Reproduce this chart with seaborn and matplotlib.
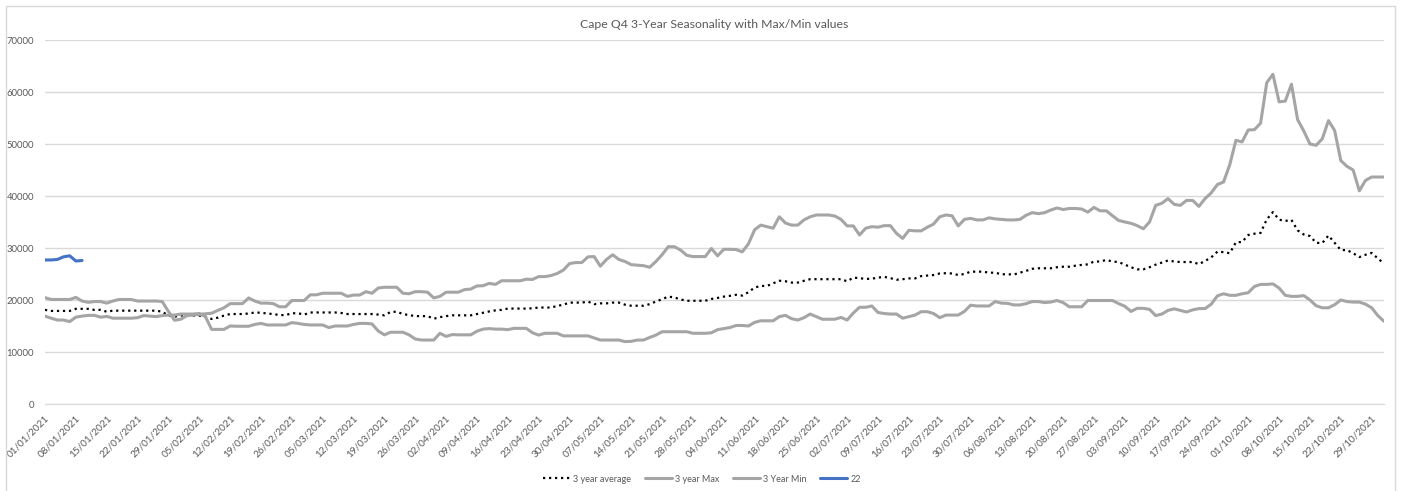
import numpy as np
import pandas as pd
import matplotlib
matplotlib.use("Agg")
import matplotlib.pyplot as plt
import seaborn as sns
from matplotlib.patches import Rectangle

# business days on a category axis, one label per week
dates = pd.bdate_range("2021-01-01", periods=218)
tick_labels = [d.strftime("%d/%m/%Y") for d in dates[::5]]

avg_3y = [
    18100, 17900, 17900, 17900, 17900, 18300, 18300, 18300, 18100, 18100,
    17750, 17950, 17950, 17950, 17950, 17950, 17950, 17950, 17950, 17750,
    17000, 16800, 17000, 17000, 17000, 17000, 16800, 16350, 16600, 17000,
    17300, 17300, 17300, 17400, 17600, 17550, 17400, 17300, 17100, 17100,
    17450, 17450, 17200, 17600, 17600, 17600, 17600, 17600, 17500, 17300,
    17300, 17300, 17300, 17300, 17200, 17050, 17700, 17750, 17300, 17100,
    16900, 16900, 16900, 16400, 16700, 16900, 17050, 17050, 17050, 17050,
    17300, 17550, 17800, 18000, 18100, 18350, 18350, 18350, 18350, 18400,
    18550, 18550, 18550, 18850, 19100, 19500, 19500, 19500, 19700, 19200,
    19350, 19350, 19500, 19500, 19100, 18900, 18900, 18900, 19200, 19700,
    20150, 20650, 20500, 20100, 19850, 19850, 19850, 19850, 20200, 20400,
    20650, 20800, 21000, 20850, 21500, 22400, 22700, 22700, 23200, 23700,
    23600, 23350, 23350, 23700, 24000, 24000, 24000, 24000, 24000, 24000,
    23600, 24300, 24200, 24050, 24100, 24300, 24450, 24200, 23900, 24000,
    24150, 24150, 24600, 24700, 24800, 25100, 25150, 25100, 24800, 25000,
    25450, 25450, 25450, 25250, 25250, 24950, 24950, 24900, 25250, 25600,
    26000, 26100, 26100, 26100, 26300, 26400, 26400, 26600, 26750, 26850,
    27400, 27400, 27700, 27400, 27300, 26800, 26300, 25900, 25900, 26300,
    26800, 27200, 27600, 27400, 27300, 27300, 27300, 26900, 27500, 28200,
    29300, 29200, 29000, 31100, 31150, 32500, 32750, 32900, 35500, 36900,
    35450, 35200, 35400, 33400, 32600, 32300, 31000, 30950, 32400, 31000,
    29600, 29600, 29000, 28250, 28700, 29050, 28000, 27000,
]

max_3y = [
    20450, 20100, 20100, 20100, 20100, 20500, 19800, 19550, 19700, 19700,
    19400, 19800, 20100, 20100, 20100, 19800, 19800, 19800, 19800, 19700,
    17800, 16100, 16300, 17000, 17100, 17250, 17350, 17450, 18000, 18500,
    19300, 19300, 19300, 20400, 19800, 19400, 19400, 19300, 18700, 18700,
    19900, 19900, 19900, 21000, 21000, 21300, 21300, 21300, 21300, 20700,
    20950, 20950, 21600, 21300, 22300, 22450, 22450, 22450, 21300, 21200,
    21600, 21600, 21500, 20400, 20700, 21500, 21500, 21500, 22000, 22100,
    22700, 22750, 23200, 23000, 23700, 23700, 23700, 23700, 24000, 23950,
    24500, 24500, 24700, 25100, 25750, 27000, 27200, 27200, 28300, 28350,
    26500, 27800, 28700, 27800, 27400, 26800, 26700, 26600, 26300, 27400,
    28700, 30250, 30250, 29600, 28600, 28350, 28350, 28350, 29900, 28500,
    29750, 29750, 29700, 29250, 30800, 33500, 34400, 34100, 33800, 36000,
    34800, 34400, 34400, 35400, 36000, 36350, 36350, 36350, 36150, 35500,
    34250, 34250, 32500, 33800, 34100, 34000, 34300, 34300, 32800, 31850,
    33400, 33300, 33300, 34000, 34600, 36000, 36350, 36200, 34250, 35500,
    35700, 35400, 35400, 35800, 35600, 35500, 35400, 35400, 35500, 36300,
    36800, 36600, 36800, 37300, 37700, 37400, 37600, 37600, 37500, 36900,
    37800, 37150, 37150, 36200, 35300, 35000, 34750, 34300, 33700, 35000,
    38200, 38600, 39500, 38400, 38200, 39150, 39150, 38000, 39500, 40600,
    42200, 42700, 46000, 50700, 50400, 52700, 52750, 54000, 61800, 63400,
    58100, 58250, 61500, 54700, 52500, 50000, 49750, 51000, 54500, 52600,
    46800, 45700, 45000, 41000, 43000, 43650, 43650, 43650,
]

min_3y = [
    16900, 16500, 16150, 16150, 15850, 16700, 16900, 17050, 17050, 16700,
    16850, 16500, 16500, 16500, 16500, 16600, 17000, 16900, 16800, 17000,
    17100, 17100, 17300, 17300, 17300, 17400, 16800, 14350, 14350, 14350,
    15000, 14950, 14950, 14950, 15300, 15500, 15200, 15200, 15200, 15200,
    15650, 15500, 15300, 15200, 15200, 15200, 14700, 15000, 15000, 15000,
    15300, 15500, 15500, 15400, 14050, 13300, 13800, 13800, 13800, 13300,
    12500, 12300, 12300, 12300, 13600, 13000, 13350, 13300, 13300, 13300,
    14000, 14400, 14500, 14400, 14400, 14300, 14550, 14550, 14550, 13700,
    13250, 13600, 13600, 13600, 13100, 13100, 13100, 13100, 13100, 12700,
    12300, 12300, 12300, 12300, 12000, 12050, 12300, 12300, 12800, 13250,
    13900, 13900, 13900, 13900, 13900, 13600, 13600, 13600, 13700, 14300,
    14500, 14700, 15100, 15100, 15000, 15700, 16000, 16000, 16000, 16800,
    17050, 16400, 16150, 16600, 17300, 16800, 16300, 16300, 16300, 16650,
    16150, 17500, 18600, 18600, 18850, 17600, 17400, 17300, 17300, 16500,
    16800, 17100, 17750, 17750, 17400, 16600, 17100, 17100, 17100, 17800,
    19000, 18850, 18850, 18850, 19700, 19400, 19350, 19050, 19050, 19300,
    19700, 19700, 19500, 19600, 19900, 19500, 18700, 18700, 18700, 19900,
    19900, 19900, 19900, 19900, 19300, 18800, 17800, 18400, 18400, 18200,
    17000, 17300, 18000, 18300, 18000, 17700, 18100, 18350, 18350, 19200,
    20800, 21200, 20900, 20900, 21200, 21400, 22600, 23000, 23000, 23100,
    22300, 20900, 20700, 20700, 20850, 20000, 18900, 18500, 18500, 19100,
    20000, 19700, 19600, 19600, 19200, 18500, 17000, 15900,
]

series_22 = [27700, 27700, 27800, 28300, 28500, 27500, 27600]

sns.set_style("white")
plt.rcParams["font.family"] = ["Lato", "DejaVu Sans"]

W, H = 1401, 491
fig = plt.figure(figsize=(W / 100, H / 100), dpi=100)
ax = fig.add_axes([45 / W, (H - 404) / H, (1384 - 45) / W, (404 - 40) / H])

pos = np.arange(len(dates))
grey = "#A5A5A5"
txt = "#595959"

sns.lineplot(x=pos, y=avg_3y, ax=ax, color="black", lw=1.6,
             linestyle=(0, (1, 1.7)), label="3 year average")
sns.lineplot(x=pos, y=max_3y, ax=ax, color=grey, lw=2.2, label="3 year Max")
sns.lineplot(x=pos, y=min_3y, ax=ax, color=grey, lw=2.2, label="3 Year Min")
sns.lineplot(x=pos[:len(series_22)], y=series_22, ax=ax, color="#4472C4",
             lw=2.2, label="22")

ax.set_xlim(0, len(dates) - 1)
ax.set_ylim(0, 70000)
ax.set_yticks(range(0, 70001, 10000))
ax.set_yticklabels([str(v) for v in range(0, 70001, 10000)])
ax.set_xticks(pos[::5])
ax.set_xticklabels(tick_labels, rotation=45, ha="right", rotation_mode="anchor")
ax.tick_params(axis="y", length=0, labelsize=6.8, colors=txt, pad=8)
ax.tick_params(axis="x", length=4, width=1, color="#D9D9D9", labelsize=7.2,
               labelcolor=txt, pad=3, direction="out")
ax.yaxis.grid(True, color="#D9D9D9", lw=1)
ax.set_axisbelow(True)
for s in ["left", "right", "top"]:
    ax.spines[s].set_visible(False)
ax.spines["bottom"].set_color("#D9D9D9")
ax.set_xlabel("")
ax.set_ylabel("")

handles, labels = ax.get_legend_handles_labels()
ax.get_legend().remove()
fig.legend(handles, labels, loc="center", bbox_to_anchor=(702 / W, 1 - 479 / H),
           ncol=4, frameon=False, fontsize=6.5, handlelength=3.0,
           columnspacing=1.5, handletextpad=0.35, labelcolor=txt)

fig.text(714 / W, 1 - 25 / H, "Cape Q4 3-Year Seasonality with Max/Min values",
         ha="center", va="center", fontsize=8.8, color=txt)

# chart area border like the spreadsheet frame
fig.patches.append(Rectangle((6 / W, -0.05), (1395 - 6) / W, 1 - 6 / H + 0.05,
                             transform=fig.transFigure, fill=False,
                             edgecolor="#D9D9D9", lw=1))

fig.savefig("out.png", dpi=100)
